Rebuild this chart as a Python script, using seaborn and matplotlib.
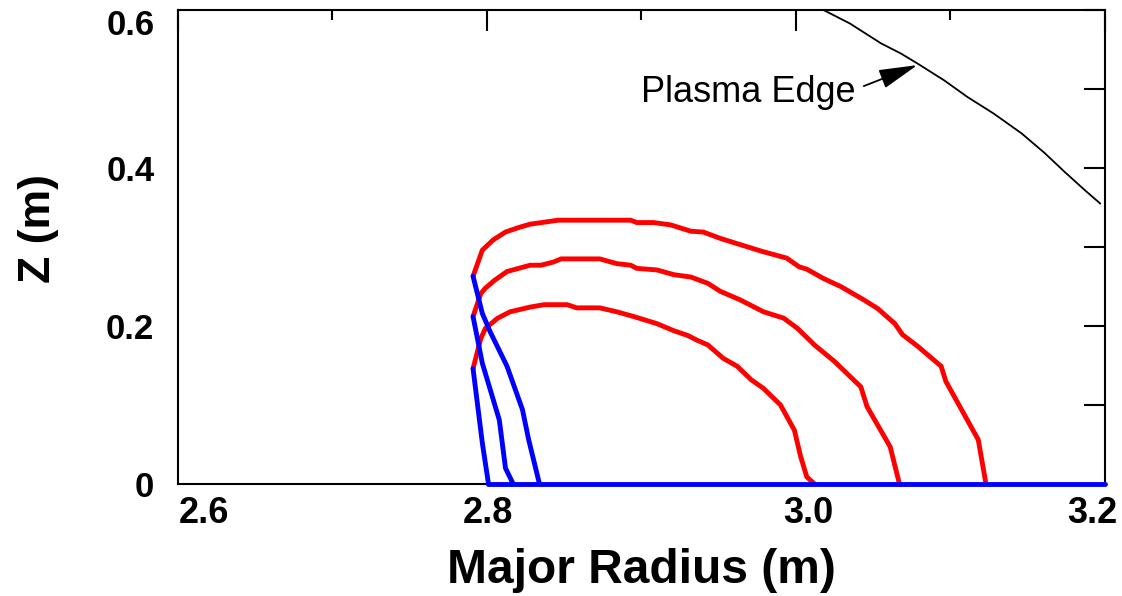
import numpy as np
import pandas as pd
import matplotlib
matplotlib.use("Agg")
import matplotlib.pyplot as plt
import matplotlib.transforms as mtransforms
from matplotlib.ticker import MultipleLocator, FixedLocator, FixedFormatter
import seaborn as sns

# plasma edge (black)
edge_r = [3.015, 3.035, 3.055, 3.068, 3.079, 3.096, 3.111, 3.128, 3.146, 3.161, 3.174, 3.187, 3.197]
edge_z = [0.603, 0.583, 0.558, 0.545, 0.532, 0.511, 0.490, 0.469, 0.444, 0.419, 0.395, 0.372, 0.355]

# red contours
outer_r = [2.791, 2.797, 2.804, 2.812, 2.821, 2.828, 2.839, 2.846, 2.893, 2.897, 2.908, 2.919, 2.932,
           2.940, 2.951, 2.964, 2.979, 2.994, 3.002, 3.007, 3.018, 3.029, 3.044, 3.053, 3.064, 3.069,
           3.079, 3.094, 3.097, 3.118, 3.123]
outer_z = [0.263, 0.296, 0.309, 0.319, 0.325, 0.329, 0.332, 0.334, 0.334, 0.331, 0.331, 0.328, 0.320,
           0.319, 0.311, 0.303, 0.294, 0.286, 0.275, 0.272, 0.260, 0.250, 0.233, 0.222, 0.203, 0.189,
           0.174, 0.149, 0.130, 0.056, 0.0]

middle_r = [2.791, 2.796, 2.799, 2.805, 2.813, 2.828, 2.835, 2.843, 2.848, 2.873, 2.884, 2.893, 2.897,
            2.910, 2.921, 2.932, 2.943, 2.951, 2.964, 2.979, 2.992, 3.001, 3.012, 3.025, 3.042, 3.046,
            3.061, 3.067]
middle_z = [0.212, 0.241, 0.248, 0.258, 0.269, 0.277, 0.277, 0.281, 0.285, 0.285, 0.279, 0.277, 0.273,
            0.271, 0.265, 0.262, 0.254, 0.244, 0.233, 0.218, 0.210, 0.197, 0.176, 0.155, 0.123, 0.098,
            0.047, 0.0]

inner_r = [2.791, 2.796, 2.799, 2.807, 2.815, 2.828, 2.837, 2.852, 2.858, 2.873, 2.884, 2.895, 2.910,
           2.921, 2.930, 2.936, 2.943, 2.953, 2.962, 2.971, 2.979, 2.990, 2.999, 3.003, 3.007, 3.012]
inner_z = [0.146, 0.184, 0.197, 0.210, 0.218, 0.224, 0.227, 0.227, 0.223, 0.223, 0.218, 0.212, 0.203,
           0.194, 0.188, 0.182, 0.176, 0.159, 0.149, 0.132, 0.121, 0.100, 0.068, 0.035, 0.009, 0.0]

# blue legs
blue1_r = [2.791, 2.797, 2.801]
blue1_z = [0.146, 0.052, 0.0]
blue2_r = [2.791, 2.797, 2.808, 2.812, 2.817]
blue2_z = [0.212, 0.153, 0.081, 0.020, 0.0]
blue3_r = [2.791, 2.797, 2.802, 2.813, 2.823, 2.827, 2.834]
blue3_z = [0.263, 0.216, 0.193, 0.149, 0.094, 0.056, 0.0]
base_r = [2.801, 3.2]
base_z = [0.0, 0.0]

x_ticks = [2.6, 2.8, 3.0, 3.2]
x_labels = ["2.6", "2.8", "3.0", "3.2"]
y_ticks = [0, 0.1, 0.2, 0.3, 0.4, 0.5, 0.6]
y_labels = ["0", "", "0.2", "", "0.4", "", "0.6"]

# annotation placement
arrow_tip = (3.0786, 0.5304)
arrow_tail = (3.0439, 0.5038)
label_pos = (2.900, 0.4835)

sns.set_style("white")
plt.rcParams["font.family"] = ["Liberation Sans", "DejaVu Sans"]
plt.rcParams.update({"text.color": "black", "axes.labelcolor": "black",
                     "xtick.color": "black", "ytick.color": "black"})

fig = plt.figure(figsize=(11.22, 5.96), dpi=100)
ax = fig.add_axes([0.1586, 0.188, 0.9848 - 0.1586, 0.983 - 0.188])

def draw(r, z, color, lw, zorder=2, clip=False):
    df = pd.DataFrame({"R": r, "Z": z})
    sns.lineplot(data=df, x="R", y="Z", sort=False, estimator=None, color=color,
                 lw=lw, ax=ax, zorder=zorder, clip_on=clip, solid_joinstyle="miter")

draw(edge_r, edge_z, "black", 1.3, clip=True)
for r, z in [(outer_r, outer_z), (middle_r, middle_z), (inner_r, inner_z)]:
    draw(r, z, "#ff0000", 3.5)
for r, z in [(blue1_r, blue1_z), (blue2_r, blue2_z), (blue3_r, blue3_z), (base_r, base_z)]:
    draw(r, z, "#0000ff", 3.5, zorder=3)

ax.text(label_pos[0], label_pos[1], "Plasma Edge", fontsize=26, ha="left", va="baseline")
ax.annotate("", xy=arrow_tip, xytext=arrow_tail,
            arrowprops=dict(arrowstyle="-|>,head_length=2.4,head_width=0.6",
                            color="black", lw=1.3, shrinkA=0, shrinkB=0))

ax.set_xlim(2.6, 3.2)
ax.set_ylim(0, 0.6)
ax.xaxis.set_major_locator(FixedLocator(x_ticks))
ax.xaxis.set_major_formatter(FixedFormatter(x_labels))
ax.xaxis.set_minor_locator(MultipleLocator(0.1))
ax.yaxis.set_major_locator(FixedLocator(y_ticks))
ax.yaxis.set_major_formatter(FixedFormatter(y_labels))

ax.tick_params(which="both", direction="in", top=True, right=True, width=1.5, color="black")
ax.tick_params(which="major", length=15)
ax.tick_params(which="minor", length=7)
ax.tick_params(axis="x", which="major", pad=9, labelsize=26)
ax.tick_params(axis="y", which="major", pad=17, labelsize=25)

# nudge the end labels the way the original layout did
fig.canvas.draw()
x_shift = [26, 1, 12, -13]
for lab, dx in zip(ax.get_xticklabels(), x_shift):
    lab.set_fontweight("bold")
    lab.set_transform(lab.get_transform() + mtransforms.Affine2D().translate(dx, 0))
for lab in ax.get_yticklabels():
    lab.set_fontweight("bold")
    if lab.get_text() == "0.6":
        lab.set_transform(lab.get_transform() + mtransforms.Affine2D().translate(0, -12))

for s in ax.spines.values():
    s.set_linewidth(1.5)
    s.set_color("black")

ax.set_xlabel("Major Radius (m)", fontsize=34.5, fontweight="bold", labelpad=12)
ax.set_ylabel("Z (m)", fontsize=32, fontweight="bold")
ax.yaxis.set_label_coords(-0.128, 0.54)

fig.savefig("out.png", dpi=100)
